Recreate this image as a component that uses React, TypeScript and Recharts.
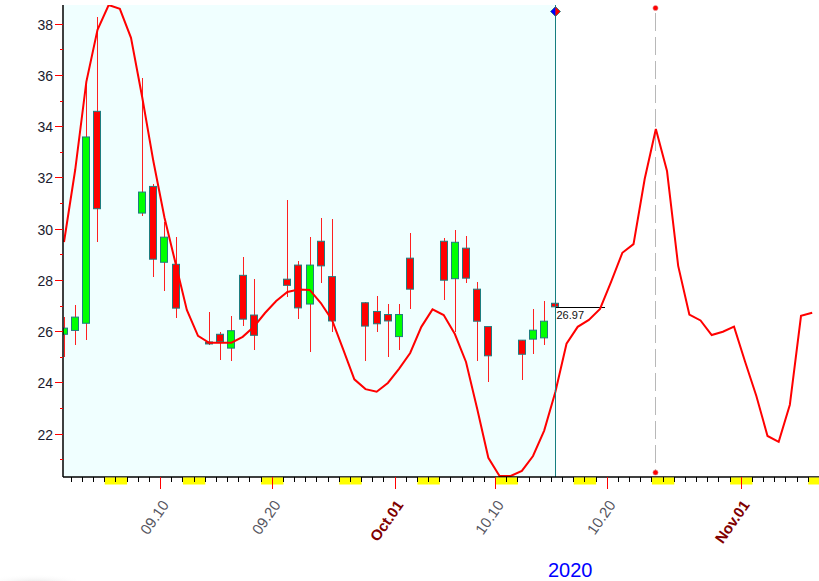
import React from 'react';
import { ComposedChart, Line, Bar, XAxis, YAxis, ReferenceArea, ReferenceLine } from 'recharts';

// ---------- data ----------
// day index 0 = 2020-09-01
const lineDays: number[] = Array.from({ length: 68 }, (_, i) => i);
const forecastLine: number[] = [
  29.5, 32.31, 35.75, 37.78, 38.75, 38.6, 37.47, 35.16, 32.66, 30.45,
  28.65, 26.85, 25.84, 25.57, 25.57, 25.57, 25.8, 26.19, 26.73, 27.2,
  27.55, 27.65, 27.63, 27.12, 26.46, 25.31, 24.14, 23.76, 23.66, 24.0,
  24.55, 25.17, 26.19, 26.87, 26.65, 25.91, 24.82, 22.99, 21.08, 20.37,
  20.37, 20.57, 21.15, 22.14, 23.65, 25.53, 26.19, 26.46, 26.89, 27.95,
  29.08, 29.42, 31.96, 33.91, 32.27, 28.57, 26.67, 26.44, 25.87, 26.0,
  26.2, 24.82, 23.49, 21.93, 21.7, 23.15, 26.62, 26.74,
];

const candleDays: number[] = [0, 1, 2, 3, 7, 8, 9, 10, 13, 14, 15, 16, 17, 20, 21, 22, 23, 24, 27, 28, 29, 30, 31, 34, 35, 36, 37, 38, 41, 42, 43, 44];
const opens: number[] = [25.9, 26.05, 26.33, 34.6, 30.63, 31.67, 28.71, 28.63, 25.6, 25.9, 25.36, 28.2, 26.65, 28.05, 28.6, 27.08, 29.53, 28.15, 27.13, 26.79, 26.67, 25.81, 28.87, 29.53, 28.07, 29.26, 27.66, 26.2, 25.67, 25.71, 25.76, 27.11];
const highs: number[] = [26.57, 27.05, 35.9, 38.3, 35.9, 31.76, 30.3, 29.69, 26.76, 25.98, 26.6, 28.9, 28.06, 31.14, 28.77, 29.7, 30.44, 30.4, 27.15, 27.4, 27.08, 27.08, 29.87, 29.66, 29.97, 29.74, 27.95, 26.2, 25.67, 26.9, 27.21, 29.06];
const lows: number[] = [25.0, 25.49, 25.66, 29.5, 30.5, 28.13, 27.57, 26.53, 25.5, 24.9, 24.84, 26.24, 25.27, 27.37, 26.49, 25.2, 27.92, 26.0, 24.86, 25.97, 25.03, 25.29, 26.9, 27.24, 26.0, 27.92, 24.87, 24.02, 24.12, 25.13, 25.5, 26.97];
const closes: number[] = [26.14, 26.57, 33.6, 30.8, 31.45, 28.83, 29.69, 26.92, 25.58, 25.61, 26.04, 26.49, 25.86, 27.81, 26.93, 28.6, 28.57, 26.42, 26.22, 26.31, 26.42, 26.67, 27.66, 28.01, 29.49, 28.09, 26.41, 25.06, 25.12, 26.06, 26.41, 26.97];

const yTicks: number[] = [21, 22, 23, 24, 25, 26, 27, 28, 29, 30, 31, 32, 33, 34, 35, 36, 37, 38];
const xTickDays: number[] = Array.from({ length: 67 }, (_, i) => i + 1);
const weekendDays: number[] = [4, 5, 11, 12, 18, 19, 25, 26, 32, 33, 39, 40, 46, 47, 53, 54, 60, 61, 67];
const majorTickDays: number[] = [9, 19, 30, 39, 49, 61];
const majorTickLabels: string[] = ['09.10', '09.20', 'Oct.01', '10.10', '10.20', 'Nov.01'];
const majorTickBold: boolean[] = [false, false, true, false, false, true];
const markerDay = 53;
const yearLabel = '2020';

// ---------- layout ----------
const CHART_W = 819;
const CHART_H = 581;
const Y_AXIS_W = 63;
const X_AXIS_H = 104;
const MARGIN = { top: 5, right: 0, bottom: 0, left: 0 };
const X_MIN = 0.26;
const X_MAX = 67.96;
const Y_MIN = 20.33;
const Y_MAX = 38.75;
const CANDLE_OFFSET = 0.35; // candles sit a bit after the day tick
const DAY_PX = (CHART_W - Y_AXIS_W - MARGIN.left - MARGIN.right) / (X_MAX - X_MIN);
const FONT = "'Liberation Sans', Arial, sans-serif";

const rows = lineDays.map((d, i) => {
  const ci = candleDays.indexOf(d);
  return {
    day: d,
    x: d + CANDLE_OFFSET,
    line: forecastLine[i],
    open: ci >= 0 ? opens[ci] : null,
    high: ci >= 0 ? highs[ci] : null,
    low: ci >= 0 ? lows[ci] : null,
    close: ci >= 0 ? closes[ci] : null,
    last: ci === candleDays.length - 1,
  };
});

const lastCandleX = candleDays[candleDays.length - 1] + CANDLE_OFFSET;

const CandleShape = (props: any) => {
  const { x, y, width, height, payload } = props;
  if (!payload || payload.high == null || x == null || y == null) return null;
  const top = Math.min(y, y + height);
  const h = Math.abs(height);
  const rng = payload.high - payload.low || 1;
  const px = (v: number) => top + ((payload.high - v) / rng) * h;
  const cx = Math.round(x + width / 2 - 0.5) + 0.5;
  const up = payload.close > payload.open;
  const bTop = px(Math.max(payload.open, payload.close));
  const bBot = px(Math.min(payload.open, payload.close));
  const bh = Math.max(bBot - bTop, 2);
  return (
    <g>
      <line x1={cx} x2={cx} y1={px(payload.high)} y2={px(payload.low)} stroke="#FF2020" strokeWidth={1} shapeRendering="crispEdges" />
      <rect x={cx - 4} y={bTop} width={7} height={bh} fill={up ? '#00FF00' : '#FF0000'} stroke="#1E7D80" strokeWidth={1} />
      {payload.last && (
        <g>
          <line x1={cx} x2={cx + 49} y1={px(payload.close) + 0.5} y2={px(payload.close) + 0.5} stroke="#000" strokeWidth={1} shapeRendering="crispEdges" />
          <text x={cx + 1} y={px(payload.close) + 12} fontSize={11} fontFamily={FONT} fill="#111">{payload.close.toFixed(2)}</text>
        </g>
      )}
    </g>
  );
};

const YTick = (props: any) => {
  const { x, y, payload } = props;
  const v = payload.value;
  const major = v % 2 === 0;
  return (
    <g>
      <line x1={x - (major ? 8 : 3)} x2={x} y1={y} y2={y} stroke="#FF0000" strokeWidth={1} shapeRendering="crispEdges" />
      {major && (
        <text x={x - 10} y={y + 5.5} textAnchor="end" fontSize={14} fontFamily={FONT} fill="#1a1a2e">{v}</text>
      )}
    </g>
  );
};

const XTick = (props: any) => {
  const { x, y, payload } = props;
  const d = payload.value;
  const weekend = weekendDays.includes(d);
  const mi = majorTickDays.indexOf(d);
  const major = mi >= 0;
  const tx = x + 9;
  const ty = y + 28;
  return (
    <g>
      {weekend && <rect x={x} y={y + 0.5} width={DAY_PX} height={7} fill="#FFFF00" />}
      <line x1={x} x2={x} y1={y} y2={y + (major ? 12 : 5)} stroke={major ? '#FF0000' : '#000'} strokeWidth={1} shapeRendering="crispEdges" />
      {major && (
        <text
          x={tx}
          y={ty}
          transform={`rotate(-55, ${tx}, ${ty})`}
          textAnchor="end"
          fontSize={15}
          fontWeight={majorTickBold[mi] ? 'bold' : 'normal'}
          fontFamily={FONT}
          fill={majorTickBold[mi] ? '#800000' : '#555560'}
        >
          {majorTickLabels[mi]}
        </text>
      )}
    </g>
  );
};

const CurrentLineShape = (props: any) => {
  const { x1, y1, x2, y2 } = props;
  const top = Math.min(y1, y2);
  const cx = Math.round(x1 - 0.5) + 0.5;
  const cy = top + 6.5;
  return (
    <g>
      <line x1={cx} x2={cx} y1={y1} y2={y2} stroke="#167E80" strokeWidth={1} shapeRendering="crispEdges" />
      <path d={`M${cx} ${cy - 5} L${cx - 5} ${cy} L${cx} ${cy + 5} Z`} fill="#0000FF" />
      <path d={`M${cx} ${cy - 5} L${cx + 5} ${cy} L${cx} ${cy + 5} Z`} fill="#FF0000" />
      <path d={`M${cx} ${cy - 5} L${cx + 5} ${cy} L${cx} ${cy + 5} L${cx - 5} ${cy} Z`} fill="none" stroke="#167E80" strokeWidth={0.8} />
    </g>
  );
};

const MarkerLineShape = (props: any) => {
  const { x1, y1, x2, y2 } = props;
  const top = Math.min(y1, y2);
  const bot = Math.max(y1, y2);
  const cx = Math.round(x1 - 0.5) + 0.5;
  return (
    <g>
      <line x1={cx} x2={cx} y1={top + 8} y2={bot - 5} stroke="#B8B8B8" strokeWidth={1.2} strokeDasharray="18 6" shapeRendering="crispEdges" />
      <circle cx={cx} cy={top + 3} r={2.6} fill="#FF0000" stroke="#E0A0A0" strokeWidth={0.6} />
      <circle cx={cx} cy={bot - 4.5} r={2.6} fill="#FF0000" stroke="#E0A0A0" strokeWidth={0.6} />
    </g>
  );
};

export default function App() {
  return (
    <div style={{ position: 'absolute', left: 0, top: 0, width: CHART_W, height: CHART_H, background: '#fff' }}>
      <ComposedChart width={CHART_W} height={CHART_H} data={rows} margin={MARGIN}>
        <ReferenceArea x1={X_MIN} x2={lastCandleX} fill="#F0FFFF" fillOpacity={1} stroke="none" ifOverflow="hidden" />
        <XAxis
          type="number"
          dataKey="x"
          domain={[X_MIN, X_MAX]}
          allowDataOverflow
          ticks={xTickDays}
          interval={0}
          height={X_AXIS_H}
          tickSize={0}
          tickMargin={0}
          tick={<XTick />}
          tickLine={false}
          axisLine={{ stroke: '#000', strokeWidth: 1.5 }}
        />
        <YAxis
          type="number"
          domain={[Y_MIN, Y_MAX]}
          allowDataOverflow
          ticks={yTicks}
          interval={0}
          width={Y_AXIS_W}
          tickSize={0}
          tickMargin={0}
          tick={<YTick />}
          tickLine={false}
          axisLine={{ stroke: '#000', strokeWidth: 1.5 }}
        />
        <ReferenceLine x={markerDay + CANDLE_OFFSET} shape={<MarkerLineShape />} ifOverflow="visible" />
        <Bar
          dataKey={(r: any) => (r.high != null ? [r.low, r.high] : null)}
          barSize={8}
          shape={<CandleShape />}
          isAnimationActive={false}
        />
        <Line
          type="linear"
          dataKey="line"
          stroke="#FF0000"
          strokeWidth={2}
          dot={false}
          activeDot={false}
          isAnimationActive={false}
        />
        <ReferenceLine x={lastCandleX} shape={<CurrentLineShape />} ifOverflow="visible" />
      </ComposedChart>
      <svg width={CHART_W} height={CHART_H} style={{ position: 'absolute', left: 0, top: 0, pointerEvents: 'none' }}>
        <defs>
          <radialGradient id="blob2" cx="50%" cy="50%" r="50%">
            <stop offset="0%" stopColor="#d0d0d0" stopOpacity={0.7} />
            <stop offset="100%" stopColor="#ffffff" stopOpacity={0} />
          </radialGradient>
        </defs>
        <ellipse cx={35} cy={584} rx={55} ry={10} fill="url(#blob2)" />
        <text x={548} y={577} fontSize={20} fontFamily={FONT} fill="#0000FF">{yearLabel}</text>
      </svg>
    </div>
  );
}
